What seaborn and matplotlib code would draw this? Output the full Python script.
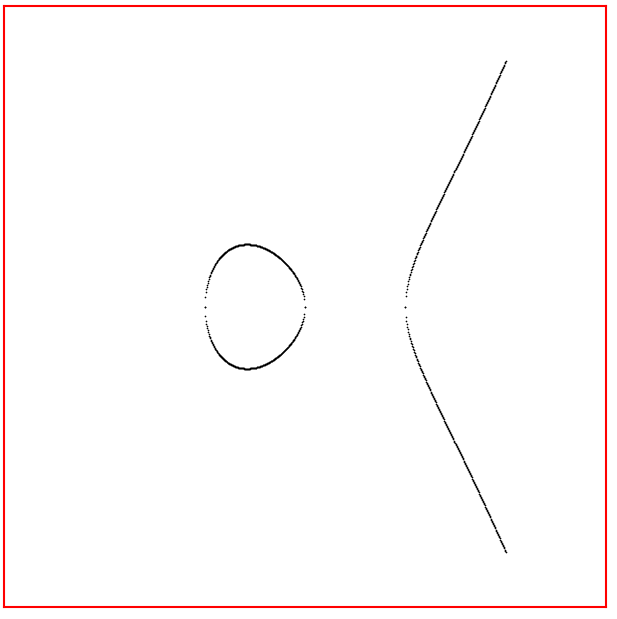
import numpy as np
import pandas as pd
import matplotlib
matplotlib.use("Agg")
import matplotlib.pyplot as plt
import seaborn as sns

### Curve y^2 = x^3 + a*x + b, sampled on a uniform x grid
a = -1.0
b = 0.0
x_samples = np.linspace(-1, 2, 601)
x_limits = (-3, 3)
y_limits = (-3, 3)

rhs = x_samples ** 3 + a * x_samples + b
keep = rhs >= 0
xs = x_samples[keep]
ys = np.sqrt(rhs[keep])

df = pd.DataFrame({'x': np.concatenate([xs, xs]),
                   'y': np.concatenate([ys, -ys])})

sns.set_style('white')

fig = plt.figure(figsize=(6.17, 6.19), dpi=100)
ax = fig.add_axes([4 / 617, 12 / 619, 602 / 617, 601 / 619])

sns.scatterplot(data=df, x='x', y='y', ax=ax, color='black', s=1.5,
                linewidth=0, legend=False)

ax.set_xlim(*x_limits)
ax.set_ylim(*y_limits)
ax.set_xticks([])
ax.set_yticks([])
ax.set_xlabel('')
ax.set_ylabel('')
for sp in ax.spines.values():
    sp.set_visible(True)
    sp.set_color('red')
    sp.set_linewidth(1.5)

fig.savefig('out.png', dpi=100)
